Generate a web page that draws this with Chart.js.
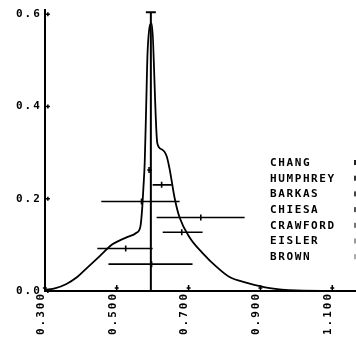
<!DOCTYPE html>
<html>
<head>
<meta charset="utf-8">
<script src="https://cdn.jsdelivr.net/npm/chart.js@4"></script>
<style>
  html, body { margin: 0; padding: 0; background: #fff; }
  #wrap { width: 356px; height: 338px; }
</style>
</head>
<body>
<div id="wrap"><canvas id="chart"></canvas></div>
<script>
// tick labels
const xTicks = [0.3, 0.5, 0.7, 0.9, 1.1];
const yTicks = [0.0, 0.2, 0.4, 0.6];

// smoothed distribution curve
const curveX = [0.30, 0.33, 0.36, 0.39, 0.416, 0.452, 0.488, 0.51, 0.527, 0.555, 0.566, 0.571, 0.574, 0.578, 0.582, 0.586, 0.597,
                0.613, 0.625, 0.639, 0.647, 0.661, 0.675, 0.703, 0.739, 0.778, 0.814, 0.865, 0.926, 1.0, 1.1, 1.166];
const curveY = [0.002, 0.006, 0.015, 0.03, 0.049, 0.075, 0.101, 0.110, 0.116, 0.126, 0.140, 0.180, 0.220, 0.280, 0.400, 0.520, 0.580,
                0.320, 0.307, 0.292, 0.265, 0.202, 0.159, 0.116, 0.082, 0.052, 0.030, 0.017, 0.006, 0.001, 0.0, 0.0];

// central value line
const centerX = 0.595;
const centerTop = 0.604;

// measurements (horizontal error bars)
const names = ['CHANG', 'HUMPHREY', 'BARKAS', 'CHIESA', 'CRAWFORD', 'EISLER', 'BROWN'];
const measY = [0.262, 0.230, 0.194, 0.159, 0.127, 0.092, 0.058];
const measX = [0.590, 0.625, 0.569, 0.734, 0.681, 0.525, 0.597];
const measLo = [0.585, 0.600, 0.457, 0.611, 0.628, 0.446, 0.477];
const measHi = [0.598, 0.653, 0.675, 0.856, 0.739, 0.600, 0.711];

const FONT = 'bold 11px "DejaVu Sans Mono"';
const SPACING = '2px';

const datasets = [];

datasets.push({
    label: 'curve',
    data: curveX.map((x, i) => ({ x: x, y: curveY[i] })),
    showLine: true,
    borderColor: '#000',
    borderWidth: 1.8,
    pointRadius: 0,
    cubicInterpolationMode: 'monotone'
});

datasets.push({
    label: 'center',
    data: [{ x: centerX, y: 0 }, { x: centerX, y: centerTop }],
    showLine: true,
    borderColor: '#000',
    borderWidth: 2,
    pointStyle: 'line',
    pointRadius: [0, 5],
    pointBorderWidth: 2,
    pointBorderColor: '#000'
});

names.forEach((name, i) => {
    datasets.push({
        label: name,
        data: [
            { x: measLo[i], y: measY[i] },
            { x: measX[i], y: measY[i] },
            { x: measHi[i], y: measY[i] }
        ],
        showLine: true,
        borderColor: '#000',
        borderWidth: 1.6,
        pointStyle: 'line',
        pointRotation: 90,
        pointRadius: [0, 3, 0],
        pointBorderWidth: 1.6,
        pointBorderColor: '#000'
    });
});

const spacingPlugin = {
    id: 'spacing',
    beforeLayout(chart) { chart.ctx.letterSpacing = SPACING; },
    beforeDraw(chart) { chart.ctx.letterSpacing = SPACING; }
};

const decorPlugin = {
    id: 'decor',
    afterDraw(chart) {
        const ctx = chart.ctx;
        const xs = chart.scales.x;
        const ys = chart.scales.y;
        const x0 = xs.getPixelForValue(0.3);
        const y0 = ys.getPixelForValue(0);
        ctx.save();
        ctx.strokeStyle = '#000';
        ctx.lineWidth = 1.5;
        // small cross ticks on the axes
        xTicks.forEach(v => {
            const px = xs.getPixelForValue(v);
            ctx.beginPath();
            ctx.moveTo(px, y0);
            ctx.lineTo(px, y0 - 6);
            ctx.moveTo(px - 2, y0 - 3);
            ctx.lineTo(px + 2, y0 - 3);
            ctx.stroke();
        });
        yTicks.forEach(v => {
            const py = ys.getPixelForValue(v);
            ctx.beginPath();
            ctx.moveTo(x0, py);
            ctx.lineTo(x0 + 5, py);
            ctx.moveTo(x0 + 3, py - 2);
            ctx.lineTo(x0 + 3, py + 2);
            ctx.stroke();
        });
        // name list
        ctx.letterSpacing = '1.6px';
        ctx.font = FONT;
        ctx.fillStyle = '#000';
        ctx.textAlign = 'left';
        ctx.textBaseline = 'middle';
        const shades = ['#222', '#333', '#444', '#555', '#777', '#999', '#aaa'];
        names.forEach((name, i) => {
            const ty = 163 + i * 15.7;
            ctx.fillText(name, 270, ty);
            ctx.fillStyle = shades[i];
            ctx.fillRect(354, ty - 3, 2, 5);
            ctx.fillStyle = '#000';
        });
        ctx.restore();
    }
};

new Chart(document.getElementById('chart'), {
    type: 'scatter',
    data: { datasets: datasets },
    options: {
        responsive: true,
        maintainAspectRatio: false,
        animation: false,
        layout: { autoPadding: false, padding: { left: 13, top: 8, right: 0, bottom: 2 } },
        plugins: {
            legend: { display: false },
            tooltip: { enabled: false }
        },
        elements: { line: { clip: false } },
        scales: {
            x: {
                type: 'linear',
                min: 0.3,
                max: 1.166,
                afterBuildTicks: axis => { axis.ticks = xTicks.map(v => ({ value: v })); },
                afterFit: axis => { axis.paddingRight = 0; axis.paddingLeft = 0; },
                grid: { display: false, drawTicks: false },
                border: { display: true, color: '#000', width: 2 },
                ticks: {
                    color: '#000',
                    font: { family: 'DejaVu Sans Mono', size: 11, weight: 'bold' },
                    minRotation: 90,
                    maxRotation: 90,
                    padding: 1,
                    labelOffset: -4,
                    callback: v => v.toFixed(3)
                }
            },
            y: {
                type: 'linear',
                min: 0,
                max: 0.61,
                afterBuildTicks: axis => { axis.ticks = yTicks.map(v => ({ value: v })); },
                grid: { display: false, drawTicks: false },
                border: { display: true, color: '#000', width: 2 },
                ticks: {
                    color: '#000',
                    font: { family: 'DejaVu Sans Mono', size: 11, weight: 'bold' },
                    padding: 3,
                    callback: v => v.toFixed(1)
                }
            }
        }
    },
    plugins: [spacingPlugin, decorPlugin]
});
</script>
</body>
</html>
